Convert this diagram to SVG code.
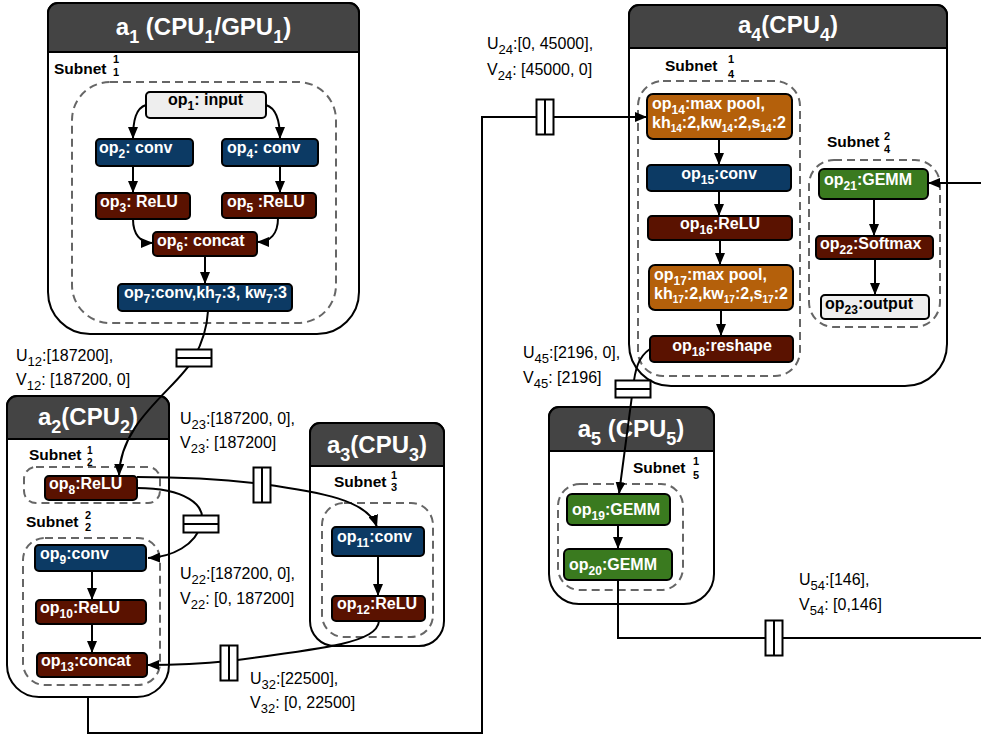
<svg xmlns="http://www.w3.org/2000/svg" xmlns:xlink="http://www.w3.org/1999/xlink" width="981" height="736" viewBox="0 0 981 736">
<style>
.bg{fill:#fff}
.cont{fill:#fff;stroke:#000;stroke-width:2}
.hdr{fill:#444;stroke:#000;stroke-width:2}
.htxt{font-family:"Liberation Sans",Arial,sans-serif;font-weight:bold;font-size:24px;fill:#fff;text-anchor:middle}
.hs{font-size:18px}
.sbox{fill:none;stroke:#666;stroke-width:2;stroke-dasharray:8 5}
.op{stroke:#000;stroke-width:2}
.blue{fill:#0c3a64}
.red{fill:#5a1200}
.orange{fill:#b4600b}
.green{fill:#3a7a1f}
.grey{fill:#eeeeee}
.ot{font-family:"Liberation Sans",Arial,sans-serif;font-weight:bold;font-size:16px;fill:#fff}
.dk{fill:#000}
.mid{text-anchor:middle}
.s{font-size:12px}
.s2{font-size:10px}
.sn{font-family:"Liberation Sans",Arial,sans-serif;font-weight:bold;font-size:15.5px;fill:#000}
.snd{font-size:11px}
.snd2{font-size:10px}
.lbl{font-family:"Liberation Sans",Arial,sans-serif;font-size:16px;fill:#000}
.ls{font-size:13px}
.edge{fill:none;stroke:#000;stroke-width:2}
.sym{fill:#fff;stroke:#000;stroke-width:2}
</style>
<defs>
<marker id="arr" viewBox="0 0 12 10" refX="12" refY="5" markerWidth="12" markerHeight="10" orient="auto" markerUnits="userSpaceOnUse">
<path d="M0,0 L12,5 L0,10 z" fill="#000"/>
</marker>
<g id="symH"><rect class="sym" x="-17.5" y="-8.5" width="35" height="17"/><line x1="-17.5" y1="0" x2="17.5" y2="0" stroke="#000" stroke-width="2"/></g>
<g id="symV"><rect class="sym" x="-8.5" y="-17.5" width="17" height="35"/><line x1="0" y1="-17.5" x2="0" y2="17.5" stroke="#000" stroke-width="2"/></g>
</defs>
<rect class="bg" x="0" y="0" width="981" height="736"/>

<!-- a1 -->
<g id="a1">
<path class="cont" d="M58,3 H349 A10,10 0 0 1 359,13 V292 A42,42 0 0 1 317,334 H90 A42,42 0 0 1 48,292 V13 A10,10 0 0 1 58,3 Z"/>
<path class="hdr" d="M48,52 V13 A10,10 0 0 1 58,3 H349 A10,10 0 0 1 359,13 V52 Z"/>
<text class="htxt" x="203.5" y="35">a<tspan class="hs" dy="8">1</tspan><tspan dy="-8"> (CPU</tspan><tspan class="hs" dy="8">1</tspan><tspan dy="-8">/GPU</tspan><tspan class="hs" dy="8">1</tspan><tspan dy="-8">)</tspan></text>
<text class="sn" x="54" y="74">Subnet <tspan class="snd" x="113" y="63">1</tspan><tspan class="snd" x="113" y="76">1</tspan></text>
<rect class="sbox" x="72" y="82" width="264" height="241" rx="38"/>
</g>
<g id="op1"><rect class="op grey" x="146" y="92" width="120" height="26" rx="4"/><text class="ot dk" x="168" y="105">op<tspan class="s" dy="5">1</tspan><tspan dy="-5">: input</tspan></text></g>
<g id="op2"><rect class="op blue" x="96" y="139" width="97" height="27" rx="4"/><text class="ot" x="99" y="153">op<tspan class="s" dy="5">2</tspan><tspan dy="-5">: conv</tspan></text></g>
<g id="op4"><rect class="op blue" x="222" y="139" width="96" height="27" rx="4"/><text class="ot" x="227" y="153">op<tspan class="s" dy="5">4</tspan><tspan dy="-5">: conv</tspan></text></g>
<g id="op3"><rect class="op red" x="96" y="193" width="94" height="26" rx="4"/><text class="ot" x="100" y="207">op<tspan class="s" dy="5">3</tspan><tspan dy="-5">: ReLU</tspan></text></g>
<g id="op5"><rect class="op red" x="222" y="193" width="94" height="25" rx="4"/><text class="ot" x="227" y="207">op<tspan class="s" dy="5">5</tspan><tspan dy="-5"> :ReLU</tspan></text></g>
<g id="op6"><rect class="op red" x="153" y="232" width="104" height="24" rx="4"/><text class="ot" x="157" y="246">op<tspan class="s" dy="5">6</tspan><tspan dy="-5">: concat</tspan></text></g>
<g id="op7"><rect class="op blue" x="118" y="284" width="174" height="27" rx="4"/><text class="ot" x="124" y="298">op<tspan class="s" dy="5">7</tspan><tspan dy="-5">:conv,kh</tspan><tspan class="s" dy="5">7</tspan><tspan dy="-5">:3, kw</tspan><tspan class="s" dy="5">7</tspan><tspan dy="-5">:3</tspan></text></g>

<!-- a2 -->
<g id="a2">
<path class="cont" d="M17,396 H159 A10,10 0 0 1 169,406 V665 A32,32 0 0 1 137,697 H39 A32,32 0 0 1 7,665 V406 A10,10 0 0 1 17,396 Z"/>
<path class="hdr" d="M7,439 V406 A10,10 0 0 1 17,396 H159 A10,10 0 0 1 169,406 V439 Z"/>
<text class="htxt" x="88" y="425">a<tspan class="hs" dy="8">2</tspan><tspan dy="-8">(CPU</tspan><tspan class="hs" dy="8">2</tspan><tspan dy="-8">)</tspan></text>
<text class="sn" x="29" y="460">Subnet <tspan class="snd2" x="87" y="454">1</tspan><tspan class="snd2" x="87" y="466">2</tspan></text>
<rect class="sbox" x="24" y="467" width="136" height="36" rx="12"/>
<text class="sn" x="26" y="527">Subnet <tspan class="snd" x="85" y="519">2</tspan><tspan class="snd" x="85" y="531">2</tspan></text>
<rect class="sbox" x="23" y="538" width="137" height="147" rx="22"/>
</g>
<g id="op8"><rect class="op red" x="45" y="476" width="92" height="24" rx="4"/><text class="ot" x="49" y="489">op<tspan class="s" dy="5">8</tspan><tspan dy="-5">:ReLU</tspan></text></g>
<g id="op9"><rect class="op blue" x="35" y="545" width="111" height="26" rx="4"/><text class="ot" x="40" y="559">op<tspan class="s" dy="5">9</tspan><tspan dy="-5">:conv</tspan></text></g>
<g id="op10"><rect class="op red" x="36" y="600" width="110" height="24" rx="4"/><text class="ot" x="40" y="613">op<tspan class="s" dy="5">10</tspan><tspan dy="-5">:ReLU</tspan></text></g>
<g id="op13"><rect class="op red" x="37" y="653" width="110" height="24" rx="4"/><text class="ot" x="41" y="666">op<tspan class="s" dy="5">13</tspan><tspan dy="-5">:concat</tspan></text></g>

<!-- a3 -->
<g id="a3">
<path class="cont" d="M320,423 H434 A10,10 0 0 1 444,433 V621 A25,25 0 0 1 419,646 H335 A25,25 0 0 1 310,621 V433 A10,10 0 0 1 320,423 Z"/>
<path class="hdr" d="M310,466 V433 A10,10 0 0 1 320,423 H434 A10,10 0 0 1 444,433 V466 Z"/>
<text class="htxt" x="377" y="453">a<tspan class="hs" dy="8">3</tspan><tspan dy="-8">(CPU</tspan><tspan class="hs" dy="8">3</tspan><tspan dy="-8">)</tspan></text>
<text class="sn" x="334" y="487">Subnet <tspan class="snd" x="391" y="479">1</tspan><tspan class="snd" x="391" y="491">3</tspan></text>
<rect class="sbox" x="322" y="503" width="111" height="134" rx="22"/>
</g>
<g id="op11"><rect class="op blue" x="332" y="527" width="92" height="29" rx="4"/><text class="ot" x="337" y="542">op<tspan class="s" dy="5">11</tspan><tspan dy="-5">:conv</tspan></text></g>
<g id="op12"><rect class="op red" x="332" y="596" width="93" height="25" rx="4"/><text class="ot" x="337" y="609">op<tspan class="s" dy="5">12</tspan><tspan dy="-5">:ReLU</tspan></text></g>

<!-- a4 -->
<g id="a4">
<path class="cont" d="M639,5 H937 A10,10 0 0 1 947,15 V344 A42,42 0 0 1 905,386 H671 A42,42 0 0 1 629,344 V15 A10,10 0 0 1 639,5 Z"/>
<path class="hdr" d="M629,48 V15 A10,10 0 0 1 639,5 H937 A10,10 0 0 1 947,15 V48 Z"/>
<text class="htxt" x="788" y="33">a<tspan class="hs" dy="8">4</tspan><tspan dy="-8">(CPU</tspan><tspan class="hs" dy="8">4</tspan><tspan dy="-8">)</tspan></text>
<text class="sn" x="665" y="71">Subnet <tspan class="snd" x="728" y="63">1</tspan><tspan class="snd" x="728" y="78">4</tspan></text>
<rect class="sbox" x="638" y="81" width="162" height="295" rx="25"/>
<text class="sn" x="827" y="147">Subnet <tspan class="snd" x="884" y="140">2</tspan><tspan class="snd" x="884" y="153">4</tspan></text>
<rect class="sbox" x="809" y="160" width="131" height="167" rx="25"/>
</g>
<g id="op14"><rect class="op orange" x="647" y="94" width="145" height="45" rx="6"/><text class="ot" x="652" y="109">op<tspan class="s" dy="5">14</tspan><tspan dy="-5">:max pool,</tspan></text><text class="ot" x="652" y="128">kh<tspan class="s2" dy="4">14</tspan><tspan dy="-4">:2,kw</tspan><tspan class="s2" dy="4">14</tspan><tspan dy="-4">:2,s</tspan><tspan class="s2" dy="4">14</tspan><tspan dy="-4">:2</tspan></text></g>
<g id="op15"><rect class="op blue" x="647" y="165" width="144" height="26" rx="4"/><text class="ot mid" x="719" y="179">op<tspan class="s" dy="5">15</tspan><tspan dy="-5">:conv</tspan></text></g>
<g id="op16"><rect class="op red" x="648" y="216" width="144" height="24" rx="4"/><text class="ot mid" x="720" y="229">op<tspan class="s" dy="5">16</tspan><tspan dy="-5">:ReLU</tspan></text></g>
<g id="op17"><rect class="op orange" x="649" y="265" width="144" height="45" rx="6"/><text class="ot" x="654" y="280">op<tspan class="s" dy="5">17</tspan><tspan dy="-5">:max pool,</tspan></text><text class="ot" x="654" y="299">kh<tspan class="s2" dy="4">17</tspan><tspan dy="-4">:2,kw</tspan><tspan class="s2" dy="4">17</tspan><tspan dy="-4">:2,s</tspan><tspan class="s2" dy="4">17</tspan><tspan dy="-4">:2</tspan></text></g>
<g id="op18"><rect class="op red" x="650" y="336" width="143" height="26" rx="4"/><text class="ot mid" x="722" y="351">op<tspan class="s" dy="5">18</tspan><tspan dy="-5">:reshape</tspan></text></g>
<g id="op21"><rect class="op green" x="819" y="169" width="109" height="30" rx="5"/><text class="ot" x="824" y="185">op<tspan class="s" dy="5">21</tspan><tspan dy="-5">:GEMM</tspan></text></g>
<g id="op22"><rect class="op red" x="816" y="236" width="117" height="23" rx="4"/><text class="ot" x="820" y="249">op<tspan class="s" dy="5">22</tspan><tspan dy="-5">:Softmax</tspan></text></g>
<g id="op23"><rect class="op grey" x="821" y="295" width="108" height="24" rx="4"/><text class="ot dk" x="825" y="309">op<tspan class="s" dy="5">23</tspan><tspan dy="-5">:output</tspan></text></g>

<!-- a5 -->
<g id="a5">
<path class="cont" d="M559,407 H704 A10,10 0 0 1 714,417 V574 A30,30 0 0 1 684,604 H579 A30,30 0 0 1 549,574 V417 A10,10 0 0 1 559,407 Z"/>
<path class="hdr" d="M549,451 V417 A10,10 0 0 1 559,407 H704 A10,10 0 0 1 714,417 V451 Z"/>
<text class="htxt" x="631" y="437">a<tspan class="hs" dy="8">5</tspan><tspan dy="-8"> (CPU</tspan><tspan class="hs" dy="8">5</tspan><tspan dy="-8">)</tspan></text>
<text class="sn" x="633" y="473">Subnet <tspan class="snd" x="693" y="465">1</tspan><tspan class="snd" x="693" y="479">5</tspan></text>
<rect class="sbox" x="558" y="484" width="125" height="106" rx="22"/>
</g>
<g id="op19"><rect class="op green" x="567" y="494" width="103" height="31" rx="5"/><text class="ot" x="572" y="515">op<tspan class="s" dy="5">19</tspan><tspan dy="-5">:GEMM</tspan></text></g>
<g id="op20"><rect class="op green" x="564" y="549" width="108" height="31" rx="5"/><text class="ot" x="569" y="570">op<tspan class="s" dy="5">20</tspan><tspan dy="-5">:GEMM</tspan></text></g>

<!-- connectors -->
<g id="connectors">
<path class="edge" marker-end="url(#arr)" d="M146,105 C136,108 133,120 133,139"/>
<path class="edge" marker-end="url(#arr)" d="M266,105 C276,108 280,120 280,139"/>
<path class="edge" marker-end="url(#arr)" d="M133,166 V193"/>
<path class="edge" marker-end="url(#arr)" d="M280,166 V193"/>
<path class="edge" marker-end="url(#arr)" d="M133,219 C133,234 140,243 153,243"/>
<path class="edge" marker-end="url(#arr)" d="M278,218 C278,234 270,242 257,242"/>
<path class="edge" marker-end="url(#arr)" d="M205,256 V284"/>
<path class="edge" marker-end="url(#arr)" d="M208,311 C207,330 201,345 194,358 C178,388 120,420 119,476"/>
<path class="edge" marker-end="url(#arr)" d="M137,477 C180,477 230,480 262,484 C320,492 368,500 377,527"/>
<path class="edge" marker-end="url(#arr)" d="M137,488 C185,488 207,505 201,524 C196,545 172,557 148,558"/>
<path class="edge" marker-end="url(#arr)" d="M92,571 V600"/>
<path class="edge" marker-end="url(#arr)" d="M92,624 V653"/>
<path class="edge" marker-end="url(#arr)" d="M378,556 V596"/>
<path class="edge" marker-end="url(#arr)" d="M379,621 C377,642 330,648 229,661 C200,664 175,665 147,665"/>
<path class="edge" marker-end="url(#arr)" d="M88,697 V733 H482 V117 H647"/>
<path class="edge" marker-end="url(#arr)" d="M719,139 V165"/>
<path class="edge" marker-end="url(#arr)" d="M719,191 V216"/>
<path class="edge" marker-end="url(#arr)" d="M720,240 V265"/>
<path class="edge" marker-end="url(#arr)" d="M721,310 V336"/>
<path class="edge" marker-end="url(#arr)" d="M874,199 V236"/>
<path class="edge" marker-end="url(#arr)" d="M875,259 V295"/>
<path class="edge" marker-end="url(#arr)" d="M981,183 H928"/>
<path class="edge" marker-end="url(#arr)" d="M650,349 C638,357 635,370 633,388 L619,494"/>
<path class="edge" marker-end="url(#arr)" d="M618,525 V549"/>
<path class="edge" d="M618,580 V638 H981"/>
<use xlink:href="#symH" x="194" y="358"/>
<use xlink:href="#symV" x="262" y="485"/>
<use xlink:href="#symH" x="201" y="524"/>
<use xlink:href="#symV" x="229" y="663"/>
<use xlink:href="#symV" x="545" y="117"/>
<use xlink:href="#symH" x="633" y="389"/>
<use xlink:href="#symV" x="774" y="638"/>
</g>

<!-- edge labels -->
<g id="labels">
<text class="lbl" x="16" y="361">U<tspan class="ls" dy="5">12</tspan><tspan dy="-5">:[187200],</tspan></text>
<text class="lbl" x="16" y="385">V<tspan class="ls" dy="5">12</tspan><tspan dy="-5">: [187200, 0]</tspan></text>
<text class="lbl" x="180" y="424">U<tspan class="ls" dy="5">23</tspan><tspan dy="-5">:[187200, 0],</tspan></text>
<text class="lbl" x="180" y="448">V<tspan class="ls" dy="5">23</tspan><tspan dy="-5">: [187200]</tspan></text>
<text class="lbl" x="180" y="579">U<tspan class="ls" dy="5">22</tspan><tspan dy="-5">:[187200, 0],</tspan></text>
<text class="lbl" x="180" y="604">V<tspan class="ls" dy="5">22</tspan><tspan dy="-5">: [0, 187200]</tspan></text>
<text class="lbl" x="250" y="684">U<tspan class="ls" dy="5">32</tspan><tspan dy="-5">:[22500],</tspan></text>
<text class="lbl" x="250" y="708">V<tspan class="ls" dy="5">32</tspan><tspan dy="-5">: [0, 22500]</tspan></text>
<text class="lbl" x="487" y="49">U<tspan class="ls" dy="5">24</tspan><tspan dy="-5">:[0, 45000],</tspan></text>
<text class="lbl" x="487" y="75">V<tspan class="ls" dy="5">24</tspan><tspan dy="-5">: [45000, 0]</tspan></text>
<text class="lbl" x="523" y="358">U<tspan class="ls" dy="5">45</tspan><tspan dy="-5">:[2196, 0],</tspan></text>
<text class="lbl" x="523" y="383">V<tspan class="ls" dy="5">45</tspan><tspan dy="-5">: [2196]</tspan></text>
<text class="lbl" x="799" y="585">U<tspan class="ls" dy="5">54</tspan><tspan dy="-5">:[146],</tspan></text>
<text class="lbl" x="799" y="610">V<tspan class="ls" dy="5">54</tspan><tspan dy="-5">: [0,146]</tspan></text>
</g>
</svg>
